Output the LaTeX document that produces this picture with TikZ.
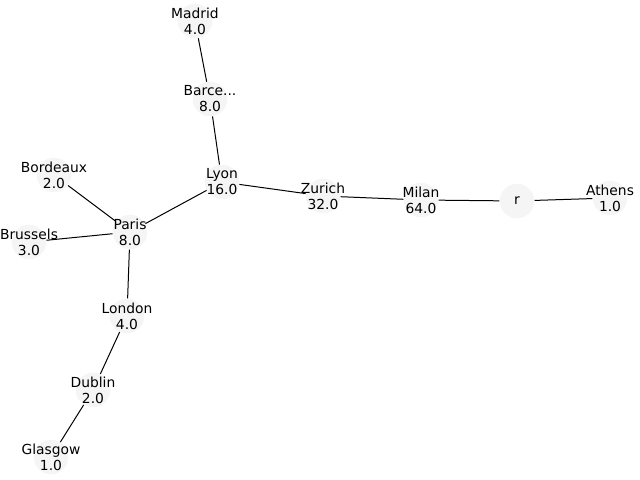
\documentclass[tikz,border=0pt]{standalone}
\usepackage{fontspec}
\setmainfont{DejaVu Sans}
\usetikzlibrary{positioning}

\definecolor{nodegray}{RGB}{245,245,245}

\tikzset{
    city/.style={circle, fill=nodegray, minimum size=25pt, inner sep=0pt},
    lbl/.style={align=center, inner sep=0pt, font=\fontsize{10}{11.5}\selectfont},
    road/.style={black, line width=0.72pt}
}

\begin{document}
\begin{tikzpicture}[x=0.254mm, y=-0.254mm]
    \useasboundingbox (0,0) rectangle (640,480);

    % cities
    \node[city, label={[lbl]center:Madrid\\4.0}] (madrid) at (195,21) {};
    \node[city, label={[lbl]center:Barce...\\8.0}] (barcelona) at (210,99) {};
    \node[city, label={[lbl]center:Lyon\\16.0}] (lyon) at (222,182) {};
    \node[city, label={[lbl]center:Bordeaux\\2.0}] (bordeaux) at (54,175) {};
    \node[city, label={[lbl]center:Paris\\8.0}] (paris) at (130,232) {};
    \node[city, label={[lbl]center:Brussels\\3.0}] (brussels) at (29,242) {};
    \node[city, label={[lbl]center:London\\4.0}] (london) at (127,316) {};
    \node[city, label={[lbl]center:Dublin\\2.0}] (dublin) at (93,390) {};
    \node[city, label={[lbl]center:Glasgow\\1.0}] (glasgow) at (51,457) {};
    \node[city, label={[lbl]center:Zurich\\32.0}] (zurich) at (323,196) {};
    \node[city, label={[lbl]center:Milan\\64.0}] (milan) at (421,200) {};
    \node[city, label={[lbl]center:r}] (root) at (517,201) {};
    \node[city, label={[lbl]center:Athens\\1.0}] (athens) at (610,198) {};

    % roads
    \draw[road] (madrid) -- (barcelona);
    \draw[road] (barcelona) -- (lyon);
    \draw[road] (lyon) -- (paris);
    \draw[road] (lyon) -- (zurich);
    \draw[road] (zurich) -- (milan);
    \draw[road] (milan) -- (root);
    \draw[road] (root) -- (athens);
    \draw[road] (paris) -- (bordeaux);
    \draw[road] (paris) -- (brussels);
    \draw[road] (paris) -- (london);
    \draw[road] (london) -- (dublin);
    \draw[road] (dublin) -- (glasgow);

\end{tikzpicture}
\end{document}
